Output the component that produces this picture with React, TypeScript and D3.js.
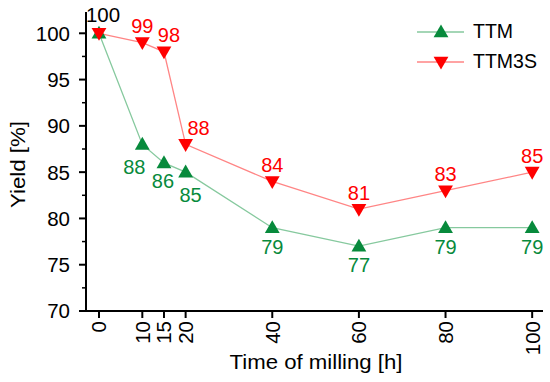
import React from 'react';
import * as d3 from 'd3';

const hours = [0, 10, 15, 20, 40, 60, 80, 100];
const ttm = [100, 88, 86, 85, 79, 77, 79, 79];
const ttm3s = [100, 99, 98, 88, 84, 81, 83, 85];
const xTicks = [0, 10, 15, 20, 40, 60, 80, 100];
const yTicks = [70, 75, 80, 85, 90, 95, 100];

const W = 550;
const H = 382;
const FONT = '"Liberation Sans", Arial, sans-serif';
const GREEN = '#078a3c';
const GREEN_LINE = '#86c99e';
const RED = '#ff0000';
const RED_LINE = '#ff8585';

// hand nudges for labels that would otherwise collide (by point index)
const redNudge: Record<number, [number, number]> = { 2: [5, 0], 3: [13, 0] };
const greenNudge: Record<number, [number, number]> = { 1: [-8, 4], 2: [-1, -1], 3: [5, 4] };

const x = d3.scaleLinear().domain([-3, 102.5]).range([86, 543]);
const y = d3.scaleLinear().domain([70, 102.3]).range([311, 12]);

const tri = d3.symbol().type(d3.symbolTriangle).size(95);

export default function App() {
  const lineG = d3.line<number>().x((_, i) => x(hours[i])).y(d => y(d));
  const minor = d3.range(72.5, 102, 5);
  const yMid = (y.range()[0] + y.range()[1]) / 2 + 3;

  return (
    <svg width={W} height={H} style={{ position: 'absolute', left: 0, top: 0, background: '#fff' }} fontFamily={FONT}>
      {/* axes */}
      <line x1={86} x2={86} y1={y.range()[1]} y2={311} stroke="#000" strokeWidth={2} />
      <line x1={86} x2={543} y1={311} y2={311} stroke="#000" strokeWidth={2} />
      {yTicks.map(t => (
        <g key={t}>
          <line x1={79} x2={86} y1={y(t)} y2={y(t)} stroke="#000" strokeWidth={2} />
          <text x={70} y={y(t)} dy="0.36em" textAnchor="end" fontSize={20.5}>{t}</text>
        </g>
      ))}
      {minor.map(t => (
        <line key={t} x1={82} x2={86} y1={y(t)} y2={y(t)} stroke="#000" strokeWidth={1.5} />
      ))}
      {xTicks.map(t => (
        <g key={t}>
          <line x1={x(t)} x2={x(t)} y1={311} y2={318} stroke="#000" strokeWidth={2} />
          <text transform={`translate(${x(t)},321) rotate(-90)`} dy="0.36em" textAnchor="end" fontSize={20.5}>{t}</text>
        </g>
      ))}
      <text x={316} y={369} textAnchor="middle" fontSize={20} textLength={173} lengthAdjust="spacingAndGlyphs">Time of milling [h]</text>
      <text transform={`translate(25,${yMid}) rotate(-90)`} textAnchor="middle" fontSize={20} textLength={87} lengthAdjust="spacingAndGlyphs">Yield [%]</text>

      {/* series lines */}
      <path d={lineG(ttm) || ''} fill="none" stroke={GREEN_LINE} strokeWidth={1.3} />
      <path d={lineG(ttm3s) || ''} fill="none" stroke={RED_LINE} strokeWidth={1.3} />

      {/* markers */}
      {ttm.map((v, i) => (
        <path key={'g' + i} d={tri() || ''} transform={`translate(${x(hours[i])},${y(v) + 1})`} fill={GREEN} />
      ))}
      {ttm3s.map((v, i) => (
        <path key={'r' + i} d={tri() || ''} transform={`translate(${x(hours[i])},${y(v) - 1}) rotate(180)`} fill={RED} />
      ))}

      {/* value labels */}
      {ttm3s.map((v, i) => {
        if (i === 0) return null;
        const n = redNudge[i] || [0, 0];
        return (
          <text key={'rl' + i} x={x(hours[i]) + n[0]} y={y(v) - 9.5 + n[1]} textAnchor="middle" fontSize={20} fill={RED}>{v}</text>
        );
      })}
      {ttm.map((v, i) => {
        if (i === 0) return null;
        const n = greenNudge[i] || [0, 0];
        return (
          <text key={'gl' + i} x={x(hours[i]) + n[0]} y={y(v) + 26 + n[1]} textAnchor="middle" fontSize={20} fill={GREEN}>{v}</text>
        );
      })}
      <text x={x(hours[0]) + 4} y={y(ttm[0]) - 11} textAnchor="middle" fontSize={20.5} fill="#000">{ttm[0]}</text>

      {/* legend */}
      <g>
        <line x1={417} x2={464} y1={32} y2={32} stroke={GREEN_LINE} strokeWidth={1.3} />
        <path d={tri() || ''} transform="translate(441,33)" fill={GREEN} />
        <text x={473} y={38} fontSize={19.5}>TTM</text>
        <line x1={417} x2={464} y1={62} y2={62} stroke={RED_LINE} strokeWidth={1.3} />
        <path d={tri() || ''} transform="translate(441,61) rotate(180)" fill={RED} />
        <text x={473} y={68} fontSize={19.5}>TTM3S</text>
      </g>
    </svg>
  );
}
